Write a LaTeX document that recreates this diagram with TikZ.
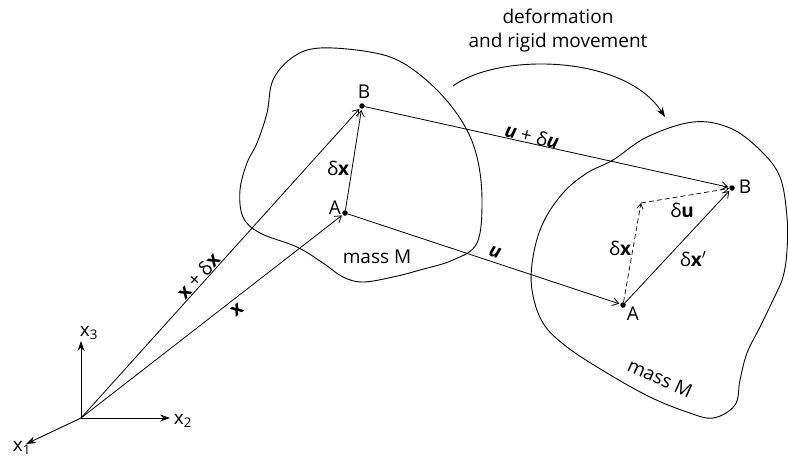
\documentclass[tikz,border=0pt]{standalone}
\usepackage{fontspec}
\setmainfont{Open Sans}
\usetikzlibrary{arrows.meta}
\begin{document}
\begin{tikzpicture}[
        x=1pt, y=-1pt,
        dotnode/.style={circle, fill, inner sep=0pt, minimum size=5.5pt},
        vec/.style={-{Straight Barb[length=6pt, width=8pt]}, line width=0.8pt, shorten >=1pt},
        dvec/.style={-{Straight Barb[length=5pt, width=6pt]}, line width=0.7pt, dash pattern=on 5pt off 3pt},
        axis/.style={-{Stealth[length=10pt, width=7pt]}, line width=0.9pt},
        blob/.style={line width=0.9pt},
        every node/.style={font=\fontsize{19}{24}\selectfont}
        ]
     \useasboundingbox (0,0) rectangle (788,459);

     % the two bodies
     \draw[blob] plot[smooth cycle, tension=0.6] coordinates {
        (320,48) (370,52) (403,63) (437,90) (463,123) (477,157) (482,200)
        (477,243) (453,260) (420,270) (393,277) (363,282) (343,277)
        (323,263) (297,247) (260,233) (243,217) (240,190) (247,163)
        (257,143) (267,113) (273,80) (293,57)};
     \draw[blob] plot[smooth cycle, tension=0.6] coordinates {
        (693,122) (730,128) (760,150) (780,177) (787,217) (787,250)
        (783,277) (773,300) (760,327) (747,353) (740,380) (735,405)
        (713,418) (687,412) (650,397) (607,373) (567,347) (543,323)
        (532,290) (533,257) (543,223) (563,193) (587,173) (613,160)
        (647,137)};

     % axes
     \coordinate (O) at (81,418);
     \coordinate (x1tip) at (26,444);
     \coordinate (x2tip) at (170,418);
     \coordinate (x3tip) at (81,341);
     \draw[axis] (O) -- (x1tip);
     \draw[axis] (O) -- (x2tip);
     \draw[axis] (O) -- (x3tip);
     \node (x1) at (22,448) {x\textsubscript{1}};
     \node (x2) at (183,421) {x\textsubscript{2}};
     \node (x3) at (89,333) {x\textsubscript{3}};

     % points
     \node[dotnode] (A1) at (345,213) {};
     \node[dotnode] (B1) at (362,106) {};
     \node[dotnode] (A2) at (623,305) {};
     \node[dotnode] (B2) at (732,188) {};
     \coordinate (C) at (641,203);
     \node (tA1) at (335,208) {A};
     \node (tB1) at (364,92) {B};
     \node (tA2) at (633,314) {A};
     \node (tB2) at (745,187) {B};

     % vectors
     \draw[vec] (O) -- (A1);
     \draw[vec] (O) -- (B1);
     \draw[vec] (A1) -- (B1);
     \draw[vec] (A1) -- (A2);
     \draw[vec] (B1) -- (B2);
     \draw[vec] (A2) -- (B2);
     \draw[dvec] (A2) -- (C);
     \draw[dvec] (C) -- (B2);

     % labels
     \node[rotate=48] (lxdx) at (198,276) {\textbf{x} + δ\textbf{x}};
     \node[rotate=38] (lx) at (237,310) {\textbf{x}};
     \node (ldx1) at (338,168) {δ\textbf{x}};
     \node (lu) [rotate=-18] at (495,252) {\textbf{\textit{u}}};
     \node (ludu) [rotate=-13] at (532,136) {\textbf{\textit{u}} + δ\textbf{\textit{u}}};
     \node (ldu) at (682,210) {δ\textbf{u}};
     \node (ldx2) at (620,248) {δ\textbf{x}};
     \node (ldxp) at (693,259) {δ\textbf{x}$'$};
     \node (mass1) at (377,257) {mass M};
     \node[rotate=-24] (mass2) at (660,378) {mass M};

     % deformation arrow
     \node[align=center] (deform) at (558,31) {deformation\\and rigid movement};
     \coordinate (defs) at (453,86);
     \coordinate (defe) at (665,117);
     \draw[-{Stealth[length=10pt, width=7pt]}, line width=0.9pt] (defs) .. controls (500,52) and (625,55) .. (defe);

    \end{tikzpicture}
\end{document}
